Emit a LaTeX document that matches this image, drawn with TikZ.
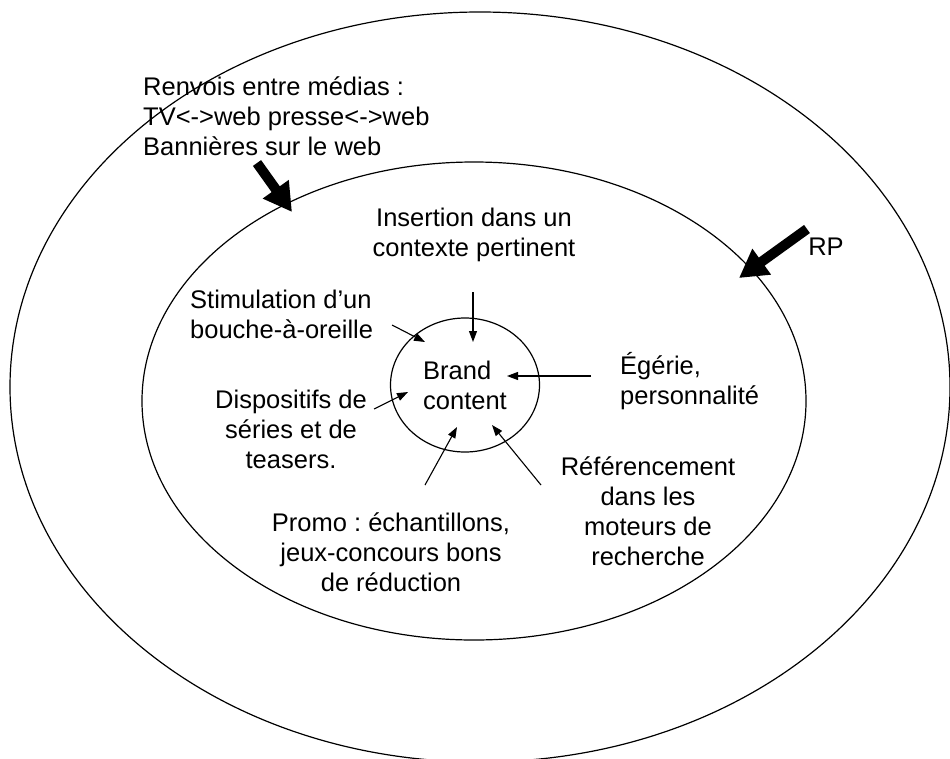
\documentclass[tikz,border=0pt]{standalone}
\usepackage{fontspec}
\setmainfont{Liberation Sans}
\usetikzlibrary{arrows.meta,shapes.geometric}
\frenchspacing
\begin{document}
\begin{tikzpicture}[x=1pt,y=-1pt,
  ring/.style={draw, ellipse, line width=1.2pt, inner sep=0pt},
  txt/.style={font=\fontsize{25.5}{30}\selectfont, inner sep=0pt, align=center},
  feed/.style={line width=1.1pt, -{Triangle[length=11pt,width=8pt]}},
  push/.style={line width=10pt, -{Triangle[length=28pt,width=30pt]}}]
\useasboundingbox (0,0) rectangle (950,758);

% three nested zones
\node[ring, minimum width=940pt, minimum height=750pt] (outer) at (480,387) {};
\node[ring, minimum width=664pt, minimum height=478pt] (inner) at (474,401) {};
\node[ring, txt, align=left, minimum width=149pt, minimum height=134pt] (core) at (465,385) {Brand\\content};

% labels
\node[txt, align=left, anchor=west] (renvois) at (143,116) {Renvois entre médias :\\TV<->web presse<->web\\Bannières sur le web};
\node[txt] (rp) at (826,247) {RP};
\node[txt] (insert) at (474,235) {Insertion dans un\\contexte pertinent};
\node[txt, align=left, anchor=west] (stim) at (190,314) {Stimulation d’un\\bouche-à-oreille};
\node[txt, align=left, anchor=west] (egerie) at (620,381) {Égérie,\\personnalité};
\node[txt] (dispo) at (291,429) {Dispositifs de\\séries et de\\teasers.};
\node[txt] (refer) at (648,511) {Référencement\\dans les\\moteurs de\\recherche};
\node[txt] (promo) at (391,552) {Promo : échantillons,\\jeux-concours bons\\de réduction};

% arrow ends
\coordinate (renvois-from) at (257,163);
\coordinate (renvois-to) at (292,212);
\coordinate (rp-from) at (807,229);
\coordinate (rp-to) at (739,278);
\coordinate (insert-from) at (473,292);
\coordinate (insert-to) at (473,342);
\coordinate (stim-from) at (392,325);
\coordinate (stim-to) at (425,342);
\coordinate (egerie-from) at (591,376);
\coordinate (egerie-to) at (507,376);
\coordinate (dispo-from) at (374,409);
\coordinate (dispo-to) at (408,392);
\coordinate (promo-from) at (425,485);
\coordinate (promo-to) at (457,427);
\coordinate (refer-from) at (541,485);
\coordinate (refer-to) at (492,425);

% heavy arrows into the middle zone
\draw[push] (renvois-from) -- (renvois-to);
\draw[push] (rp-from) -- (rp-to);

% light arrows into the core
\draw[feed] (insert-from) -- (insert-to);
\draw[feed] (stim-from) -- (stim-to);
\draw[feed] (egerie-from) -- (egerie-to);
\draw[feed] (dispo-from) -- (dispo-to);
\draw[feed] (promo-from) -- (promo-to);
\draw[feed] (refer-from) -- (refer-to);
\end{tikzpicture}
\end{document}
